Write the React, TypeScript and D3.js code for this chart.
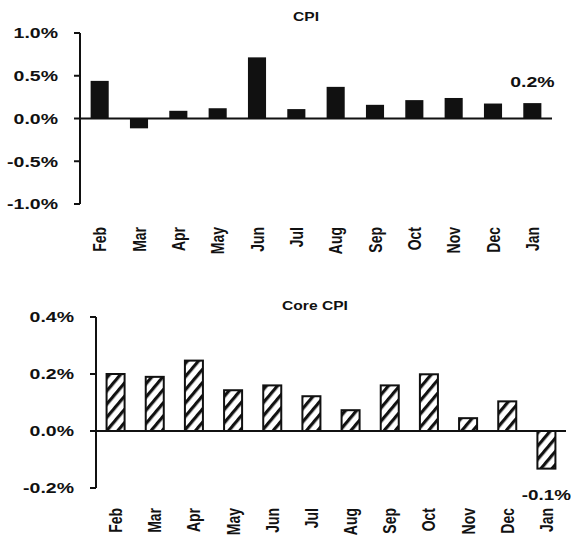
import React from "react";
import * as d3 from "d3";

// Monthly percent changes, Feb through Jan
const months = ["Feb", "Mar", "Apr", "May", "Jun", "Jul", "Aug", "Sep", "Oct", "Nov", "Dec", "Jan"];
const cpiValues = [0.44, -0.115, 0.09, 0.12, 0.715, 0.11, 0.37, 0.16, 0.215, 0.24, 0.175, 0.18];
const coreValues = [0.2, 0.19, 0.247, 0.143, 0.16, 0.122, 0.073, 0.16, 0.199, 0.045, 0.104, -0.132];
const cpiTicks = [-1, -0.5, 0, 0.5, 1];
const coreTicks = [-0.2, 0, 0.2, 0.4];

const W = 571;
const H = 545;
const SX = 1.3; // horizontal stretch of all lettering
const FONT = "'Liberation Sans', Arial, Helvetica, sans-serif";
const INK = "#111";

const pct = (v: number) => v.toFixed(1) + "%";

type STextProps = {
  x: number;
  y: number;
  text: string;
  size: number;
  anchor?: "start" | "middle" | "end";
  rotate?: number;
  dy?: string;
};

function SText({ x, y, text, size, anchor = "start", rotate = 0, dy = "0" }: STextProps) {
  return (
    <g transform={`translate(${x},${y}) scale(${SX},1) rotate(${rotate})`}>
      <text
        textAnchor={anchor}
        dy={dy}
        fontSize={size}
        fontWeight="bold"
        fontFamily={FONT}
        fill={INK}
      >
        {text}
      </text>
    </g>
  );
}

type PanelProps = {
  title: string;
  titleX: number;
  titleY: number;
  values: number[];
  ticks: number[];
  domain: [number, number];
  left: number;
  right: number;
  top: number;
  bottom: number;
  labelTop: number;
  hatched: boolean;
};

function Panel(p: PanelProps) {
  const x = d3
    .scaleBand<string>()
    .domain(months)
    .range([p.left, p.right])
    .paddingInner(0.54)
    .paddingOuter(0.27);
  const y = d3.scaleLinear().domain(p.domain).range([p.bottom, p.top]);
  const y0 = y(0);
  const last = p.values.length - 1;
  const lastV = p.values[last];
  const lastX = (x(months[last]) as number) + x.bandwidth() / 2;

  return (
    <g>
      <SText x={p.titleX} y={p.titleY} text={p.title} size={12} anchor="middle" />

      {/* bars */}
      {p.values.map((v, i) => {
        const bx = x(months[i]) as number;
        const top = Math.min(y(v), y0);
        const h = Math.abs(y(v) - y0);
        return p.hatched ? (
          <rect
            key={months[i]}
            x={bx}
            y={top}
            width={x.bandwidth()}
            height={h}
            fill="url(#hatch)"
            stroke={INK}
            strokeWidth={2}
          />
        ) : (
          <rect key={months[i]} x={bx} y={top} width={x.bandwidth()} height={h} fill={INK} />
        );
      })}

      {/* y axis */}
      <line x1={p.left} x2={p.left} y1={p.top} y2={p.bottom} stroke={INK} strokeWidth={2} />
      {p.ticks.map((t) => (
        <g key={t}>
          <line x1={p.left - 6} x2={p.left} y1={y(t)} y2={y(t)} stroke={INK} strokeWidth={2} />
          <SText x={p.left - 22} y={y(t)} text={pct(t)} size={15} anchor="end" dy="0.35em" />
        </g>
      ))}

      {/* zero line */}
      <line x1={p.left} x2={p.right} y1={y0} y2={y0} stroke={INK} strokeWidth={2} />

      {/* month labels */}
      {months.map((m) => (
        <SText
          key={m}
          x={(x(m) as number) + x.bandwidth() / 2}
          y={p.labelTop}
          text={m}
          size={14}
          anchor="end"
          rotate={-90}
          dy="0.36em"
        />
      ))}

      {/* latest value */}
      <SText
        x={lastX}
        y={lastV >= 0 ? y(lastV) - 16 : y(lastV) + 31}
        text={pct(lastV)}
        size={lastV >= 0 ? 15 : 14.5}
        anchor="middle"
      />
    </g>
  );
}

export default function App() {
  return (
    <svg
      width={W}
      height={H}
      viewBox={`0 0 ${W} ${H}`}
      style={{ position: "absolute", left: 0, top: 0, background: "#fff" }}
    >
      <defs>
        <pattern
          id="hatch"
          patternUnits="userSpaceOnUse"
          width={8.5}
          height={8.5}
          patternTransform="rotate(-50)"
        >
          <rect width={8.5} height={8.5} fill="#fff" />
          <rect width={8.5} height={3.2} fill={INK} />
        </pattern>
      </defs>
      <rect width={W} height={H} fill="#fff" />
      <Panel
        title="CPI"
        titleX={306}
        titleY={21}
        values={cpiValues}
        ticks={cpiTicks}
        domain={[-1, 1]}
        left={80}
        right={552}
        top={33}
        bottom={204}
        labelTop={227}
        hatched={false}
      />
      <Panel
        title="Core CPI"
        titleX={315}
        titleY={310}
        values={coreValues}
        ticks={coreTicks}
        domain={[-0.2, 0.4]}
        left={96}
        right={566}
        top={317}
        bottom={488}
        labelTop={508}
        hatched={true}
      />
    </svg>
  );
}
